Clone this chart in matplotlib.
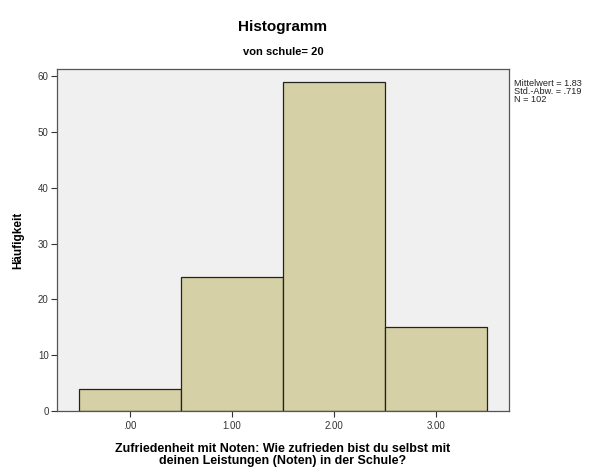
import matplotlib
matplotlib.use("Agg")
import matplotlib.pyplot as plt

plt.rcParams['font.family'] = ['Liberation Sans', 'DejaVu Sans']

# Satisfaction grade categories and their frequencies
categories = [0.0, 1.0, 2.0, 3.0]
counts = [4, 24, 59, 15]
tick_labels = [".00", "1.00", "2.00", "3.00"]
y_ticks = [0, 10, 20, 30, 40, 50, 60]

n = sum(counts)
mean = sum(c * k for c, k in zip(categories, counts)) / n
var = sum(k * (c - mean) ** 2 for c, k in zip(categories, counts)) / (n - 1)
sd = var ** 0.5

fig = plt.figure(figsize=(6.10, 4.69), dpi=100)
ax = fig.add_axes([0.0934, 0.1237, 0.7406, 0.7293])
ax.set_facecolor('#F0F0F0')

ax.bar(categories, counts, width=1.0, color='#D5D0A5', edgecolor='#222222', linewidth=0.9)

ax.set_xlim(-0.716, 3.716)
ax.set_ylim(0, 61.3)
ax.set_xticks(categories)
ax.set_xticklabels(tick_labels, fontsize=7, color='#333333')
ax.set_yticks(y_ticks)
ax.set_yticklabels([str(t) for t in y_ticks], fontsize=7, color='#333333')
ax.tick_params(axis='both', direction='out', length=4, width=0.8, color='#333333', pad=2)
ax.tick_params(axis='x', length=4, pad=3)
for s in ax.spines.values():
    s.set_color('#555555')
    s.set_linewidth(0.9)

ax.set_ylabel("Häufigkeit", fontsize=8.5, fontweight='bold', labelpad=10)
ax.set_xlabel("Zufriedenheit mit Noten: Wie zufrieden bist du selbst mit\ndeinen Leistungen (Noten) in der Schule?",
              fontsize=9, fontweight='bold', linespacing=0.98, labelpad=9)

fig.text(0.464, 0.942, "Histogramm", ha='center', va='center', fontsize=11, fontweight='bold')
fig.text(0.464, 0.890, "von schule= 20", ha='center', va='center', fontsize=8, fontweight='bold')

stats = "Mittelwert = {:.2f}\nStd.-Abw. = {}\nN = {}".format(mean, ("%.3f" % sd).lstrip('0'), n)
fig.text(0.843, 0.832, stats, ha='left', va='top', fontsize=6.6, linespacing=0.88, color='#222222')

fig.savefig("out.png", dpi=100)
